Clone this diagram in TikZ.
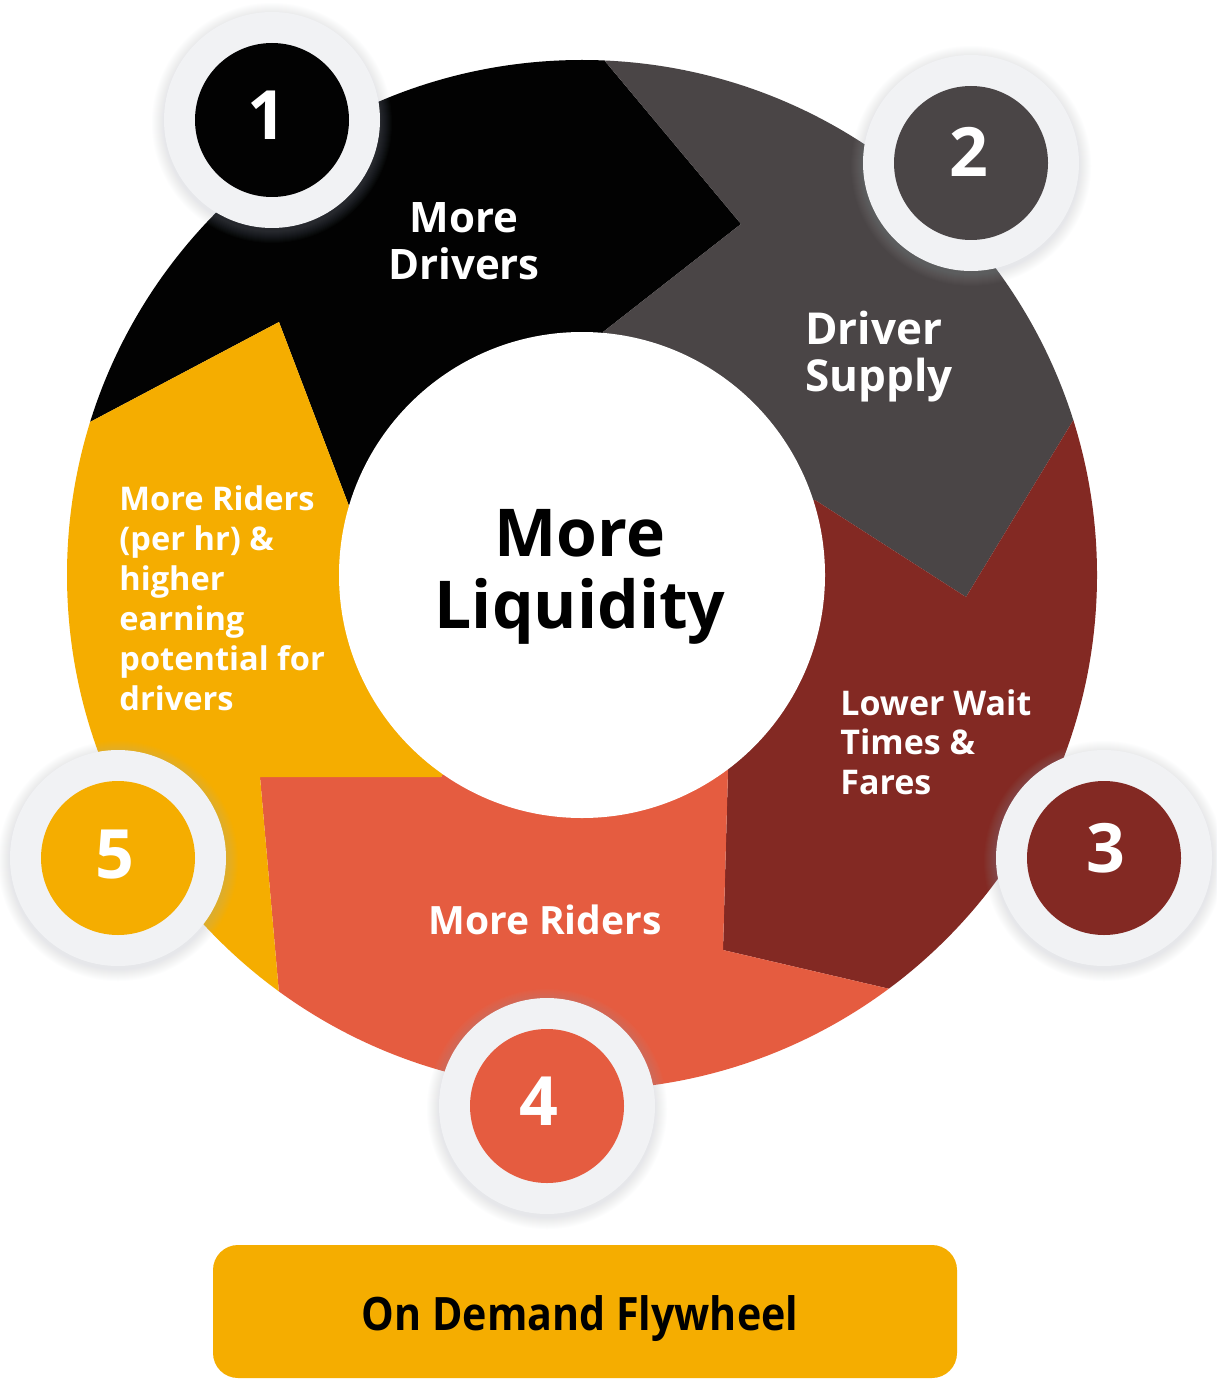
\documentclass[tikz,border=0pt]{standalone}
\usepackage{fontspec}
\setmainfont{Open Sans}
\definecolor{cBlack}{HTML}{020202}
\definecolor{cGray}{HTML}{4A4546}
\definecolor{cRed}{HTML}{832923}
\definecolor{cCoral}{HTML}{E55C40}
\definecolor{cYellow}{HTML}{F5AD00}
\definecolor{cRing}{HTML}{F1F2F4}
\definecolor{cShadow}{HTML}{A9B3C4}
\newcommand\MLc[1]{\vtop{\halign{\hfil##\hfil\cr#1\crcr}}}
\newcommand\MLl[1]{\vtop{\halign{##\hfil\cr#1\crcr}}}
\begin{document}
\begin{tikzpicture}[x=0.5pt,y=-0.5pt,
  lab/.style={inner sep=0, text=white},
  disc/.style={circle, minimum size=77pt, inner sep=0},
  digit/.style={inner sep=0, text=white, font=\fontsize{34}{34}\selectfont\bfseries}]
\useasboundingbox (0,0) rectangle (1216,1380);
\fill[white] (0,0) rectangle (1216,1380);
% segments
\begin{scope}
\clip (582,575) circle [radius=515];
\fill[cBlack] (582,575) -- (603,332) -- (741,224) -- (604,60) -- (604,-60) -- (-60,-60) -- (-60,496) -- (90,422) -- (279,322) -- (349,506) -- cycle;
\fill[cGray] (582,575) -- (603,332) -- (741,224) -- (604,60) -- (604,-60) -- (1300,-60) -- (1300,294) -- (1150,294) -- (1074,419) -- (966,597) -- (815,500) -- cycle;
\fill[cRed] (582,575) -- (815,500) -- (966,597) -- (1074,419) -- (1150,294) -- (1300,294) -- (1300,1300) -- (1000,1300) -- (1000,1015) -- (890,989) -- (723,950) -- (728,770) -- cycle;
\fill[cCoral] (582,575) -- (728,770) -- (723,950) -- (890,989) -- (1000,1015) -- (1000,1300) -- (306,1300) -- (279,993) -- (260,777) -- (441,777) -- cycle;
\fill[cYellow] (582,575) -- (441,777) -- (260,777) -- (279,993) -- (306,1300) -- (-60,1300) -- (-60,496) -- (90,422) -- (279,322) -- (349,506) -- cycle;
\end{scope}
% hub
\node[circle, fill=white, minimum size=243pt, inner sep=0] (hub) at (582,575) {};
\node[inner sep=0, anchor=base, font=\fontsize{33}{36}\selectfont\bfseries] (hubtext) at (580,556) {\MLc{More\cr Liquidity}};
% rings
\foreach \cx/\cy in {272/120,971/163,1104/858,547/1106,118/858}{
  \foreach \k in {1,...,12}{\fill[cShadow,opacity=0.025] (\cx,\cy+3) circle [radius=108+\k];}
  \fill[cRing] (\cx,\cy) circle [radius=108];
}
\node[disc, fill=cBlack] (d1) at (272,120) {};
\node[disc, fill=cGray] (d2) at (971,163) {};
\node[disc, fill=cRed] (d3) at (1104,858) {};
\node[disc, fill=cCoral] (d4) at (547,1106) {};
\node[disc, fill=cYellow] (d5) at (118,858) {};
\node[digit] (n1) at (267,115) {1};
\node[digit] (n2) at (969,152) {2};
\node[digit] (n3) at (1106,848) {3};
\node[digit] (n4) at (539,1101) {4};
\node[digit] (n5) at (115,855) {5};
% labels
\node[lab, anchor=base, font=\fontsize{21}{23.5}\selectfont\bfseries] (l1) at (464,233) {\MLc{More\cr Drivers}};
\node[lab, anchor=base west, font=\fontsize{22}{23.5}\selectfont\bfseries] (l2) at (805,344) {\MLl{Driver\cr Supply}};
\node[lab, anchor=base west, font=\fontsize{17}{19.8}\selectfont\bfseries] (l3) at (840,715) {\MLl{Lower Wait\cr Times \&\cr Fares}};
\node[lab, anchor=base, font=\fontsize{19.5}{20}\selectfont\bfseries] (l4) at (545,934) {More Riders};
\node[lab, anchor=base west, font=\fontsize{16.3}{20}\selectfont\bfseries] (l5) at (119,510) {\MLl{More Riders\cr (per hr) \&\cr higher\cr earning\cr potential for\cr drivers}};
% title
\node[fill=cYellow, rounded corners=12.5pt, minimum width=372pt, minimum height=66.5pt, inner sep=0] (title) at (585,1311.5) {};
\node[inner sep=0, anchor=base, font=\fontsize{23}{23}\selectfont\bfseries] (titletext) at (580,1330) {\scalebox{0.895}[1]{On Demand Flywheel}};
\end{tikzpicture}
\end{document}
